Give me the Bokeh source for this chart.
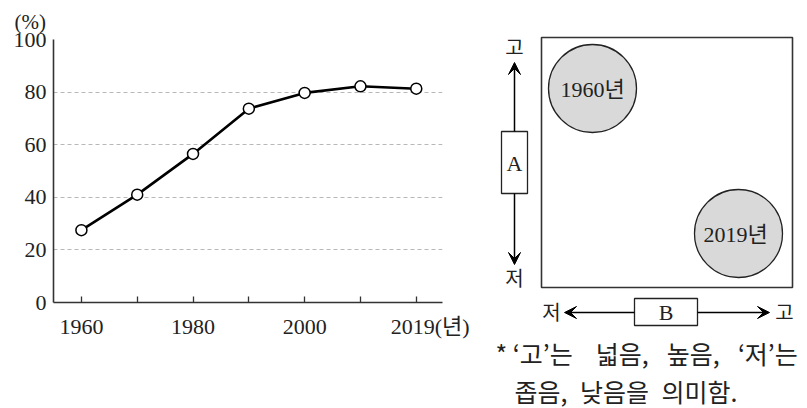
from bokeh.plotting import figure
from bokeh.layouts import row
from bokeh.models import FixedTicker, Arrow, VeeHead, Range1d
from bokeh.embed import file_html
from bokeh.resources import INLINE
from bokeh.core.properties import value

# ---- data ----
years = ["1960", "1970", "1980", "1990", "2000", "2010", "2019"]
rates = [27.5, 41.0, 56.5, 73.7, 79.7, 82.2, 81.3]
labelled_years = ["1960", "1980", "2000", "2019(년)"]
y_ticks = [0, 20, 40, 60, 80, 100]
y_unit = "(%)"

circle_labels = ["1960년", "2019년"]
box_labels = ["A", "B"]
end_labels = ["고", "저", "저", "고"]
note_lines = ["* ‘고’는 \u2002\u2009넓음, \u2002높음, \u2002‘저’는",
              "좁음,\u2002낮음을\u2002의미함."]

SERIF = "Liberation Serif"
MIX = "Liberation Serif, Noto Sans CJK KR"
KR = "Noto Sans CJK KR"
INK = "#222222"

W_LEFT, W_RIGHT, H = 480, 325, 408

# ---- left: line chart ----
xs = list(range(len(years)))
label_pos = [0, 2, 4, 6.25]
p = figure(width=W_LEFT, height=H, x_range=Range1d(-0.5, 6.47), y_range=Range1d(0, 100),
           output_backend="svg", toolbar_location=None,
           min_border_left=53, min_border_right=38, min_border_top=39, min_border_bottom=H - 302)
try:
    p.frame_align = False
except Exception:
    pass
p.outline_line_color = None
p.title.text = y_unit
p.title.align = "left"
p.title.offset = -39
p.title.standoff = 11
p.title.text_font = SERIF
p.title.text_font_size = "21px"
p.title.text_font_style = "normal"
p.title.text_color = INK

p.xgrid.visible = False
p.ygrid.ticker = FixedTicker(ticks=y_ticks[1:])
p.ygrid.grid_line_color = "#b8b8b8"
p.ygrid.grid_line_dash = "4 3"
p.ygrid.grid_line_width = 1

# x axis: labels as major ticks (hidden marks), decade marks as minor ticks
p.xaxis.ticker = FixedTicker(ticks=label_pos, minor_ticks=xs)
p.xaxis.major_label_overrides = {k: t for k, t in zip(label_pos, labelled_years)}
p.xaxis.major_tick_line_color = None
p.xaxis.minor_tick_in = 6
p.xaxis.minor_tick_out = 0
p.xaxis.minor_tick_line_color = "#333333"
p.xaxis.minor_tick_line_width = 1.3
p.xaxis.major_label_standoff = 5
p.xaxis.major_label_text_font = MIX
p.xaxis.major_label_text_font_size = "22px"
p.xaxis.major_label_text_color = INK
p.xaxis.axis_line_color = "#333333"
p.xaxis.axis_line_width = 1.6

p.yaxis.ticker = FixedTicker(ticks=y_ticks)
p.yaxis.major_tick_in = 0
p.yaxis.major_tick_out = 0
p.yaxis.minor_tick_line_color = None
p.yaxis.major_label_standoff = 7
p.yaxis.axis_line_color = "#333333"
p.yaxis.axis_line_width = 1.6
p.yaxis.major_label_text_font = SERIF
p.yaxis.major_label_text_font_size = "22px"
p.yaxis.major_label_text_color = INK

p.line(xs, rates, line_color="black", line_width=2.6)
p.scatter(xs, rates, size=11, fill_color="white", line_color="black", line_width=1.5)

# ---- right: schematic ----
q = figure(width=W_RIGHT, height=H, x_range=Range1d(W_LEFT, W_LEFT + W_RIGHT), y_range=Range1d(H, 0),
           output_backend="svg", toolbar_location=None, min_border=0,
           x_axis_location=None, y_axis_location=None)
try:
    q.frame_align = False
except Exception:
    pass
q.outline_line_color = None
q.xgrid.visible = False
q.ygrid.visible = False

q.quad(left=541, right=792, top=37, bottom=287, fill_color=None, line_color="#333333", line_width=1.6)
q.circle(x=[592, 738], y=[88, 233], radius=44, fill_color="#d9d9d9", line_color="#222222", line_width=1.3)
q.text(x=[592, 735], y=[89, 234], text=circle_labels, text_align="center", text_baseline="middle",
       text_font=value(MIX), text_font_size="22px", text_color=INK)

head = dict(size=12, fill_color="black", line_color="black")
q.add_layout(Arrow(end=VeeHead(**head), x_start=514, y_start=131, x_end=514, y_end=62, line_width=1.5))
q.add_layout(Arrow(end=VeeHead(**head), x_start=514, y_start=193, x_end=514, y_end=264, line_width=1.5))
q.add_layout(Arrow(end=VeeHead(**head), x_start=634, y_start=312, x_end=564, y_end=312, line_width=1.5))
q.add_layout(Arrow(end=VeeHead(**head), x_start=697, y_start=312, x_end=769, y_end=312, line_width=1.5))

q.quad(left=[501, 634], right=[527, 697], top=[131, 298], bottom=[193, 325],
       fill_color="white", line_color="#222222", line_width=1.3)
q.text(x=[514, 665.5], y=[163, 312], text=box_labels, text_align="center", text_baseline="middle",
       text_font=value(SERIF), text_font_size="22px", text_color=INK)
q.text(x=[514, 514, 551, 784], y=[46, 277, 311, 311], text=end_labels, text_align="center",
       text_baseline="middle", text_font=value(KR), text_font_size="20px", text_color=INK)

q.text(x=[495, 514], y=[352, 390], text=note_lines, text_align="left", text_baseline="middle",
       text_font=value(KR), text_font_size="25px", text_color=INK)

layout = row(p, q)
open("out.html", "w").write(file_html(layout, INLINE))
